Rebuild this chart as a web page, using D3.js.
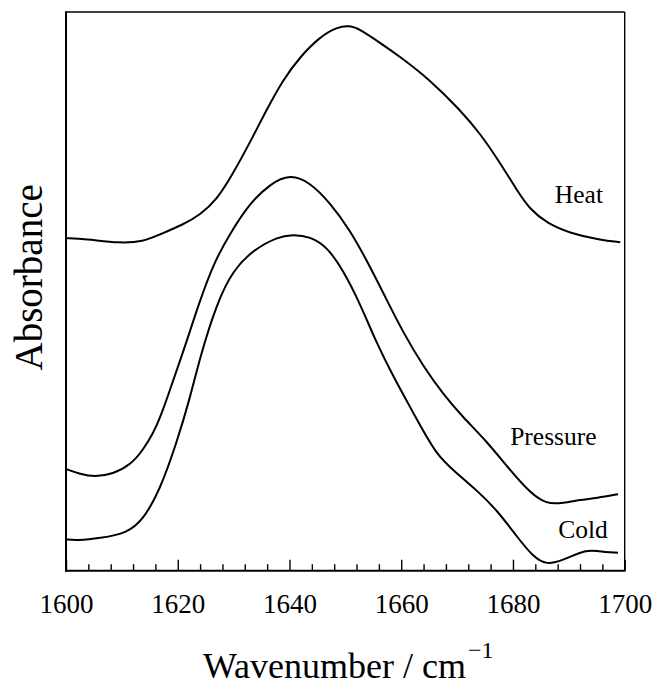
<!DOCTYPE html>
<html>
<head>
<meta charset="utf-8">
<script src="https://cdn.jsdelivr.net/npm/d3@7"></script>
<style>
  html, body { margin: 0; padding: 0; background: #fff; }
  svg { display: block; }
  text { font-family: "Liberation Serif", "Times New Roman", serif; fill: #000; }
</style>
</head>
<body>
<svg id="chart" width="657" height="686"></svg>
<script>
// Wavenumber (cm^-1) and absorbance (arbitrary units, offset traces)
const heatWn = [1600.0, 1603.4, 1609.7, 1613.8, 1616.8, 1620.9, 1624.0, 1627.0, 1629.9, 1632.9, 1635.9, 1638.8, 1641.9, 1645.5, 1648.5, 1650.8, 1652.6, 1656.2, 1659.8, 1665.2, 1670.5, 1674.1, 1677.7, 1680.7, 1683.1, 1686.1, 1690.2, 1695.6, 1699.2];
const heatAbs = [0.595, 0.594, 0.586, 0.589, 0.602, 0.619, 0.637, 0.664, 0.711, 0.766, 0.825, 0.878, 0.920, 0.956, 0.973, 0.976, 0.969, 0.945, 0.920, 0.878, 0.825, 0.783, 0.730, 0.681, 0.646, 0.622, 0.604, 0.592, 0.588];

const pressureWn = [1600.0, 1602.5, 1605.2, 1608.4, 1611.5, 1613.8, 1615.6, 1616.8, 1618.0, 1621.3, 1624.0, 1626.7, 1629.4, 1632.9, 1636.5, 1640.1, 1643.7, 1647.3, 1650.8, 1653.8, 1656.8, 1660.4, 1664.0, 1667.5, 1671.2, 1675.0, 1679.5, 1683.1, 1686.0, 1689.0, 1692.0, 1695.0, 1698.8];
const pressureAbs = [0.182, 0.173, 0.168, 0.173, 0.189, 0.216, 0.246, 0.273, 0.306, 0.401, 0.485, 0.556, 0.604, 0.658, 0.692, 0.710, 0.695, 0.658, 0.610, 0.556, 0.497, 0.425, 0.365, 0.316, 0.273, 0.235, 0.180, 0.139, 0.119, 0.121, 0.127, 0.130, 0.137];

const coldWn = [1600.0, 1601.9, 1606.1, 1610.9, 1613.8, 1616.8, 1619.8, 1622.2, 1624.0, 1627.0, 1629.9, 1633.5, 1637.7, 1640.6, 1643.7, 1646.7, 1649.6, 1652.6, 1655.6, 1658.6, 1662.2, 1666.3, 1669.9, 1673.5, 1677.1, 1680.7, 1683.6, 1686.0, 1689.0, 1693.2, 1695.0, 1698.8];
const coldAbs = [0.056, 0.054, 0.058, 0.067, 0.091, 0.144, 0.229, 0.309, 0.383, 0.479, 0.538, 0.574, 0.597, 0.602, 0.598, 0.580, 0.538, 0.479, 0.407, 0.347, 0.282, 0.206, 0.175, 0.144, 0.109, 0.061, 0.025, 0.010, 0.019, 0.038, 0.035, 0.032];

const seriesNames = ["Heat", "Pressure", "Cold"];
const xMajorTicks = [1600, 1620, 1640, 1660, 1680, 1700];
const xMinorTicks = [1604, 1608, 1612, 1616, 1624, 1628, 1632, 1636, 1644, 1648, 1652, 1656, 1664, 1668, 1672, 1676, 1684, 1688, 1692, 1696];
// label anchor points in data space (wavenumber, absorbance)
const labelWn = [1687.5, 1679.5, 1688.1];
const labelAbs = [0.659, 0.225, 0.058];

const svg = d3.select("#chart");
const L = 66, R = 624.7, T = 12, B = 570.7;

const x = d3.scaleLinear().domain([1600, 1700]).range([L, R]);
const y = d3.scaleLinear().domain([0, 1]).range([B, T]);

const series = [
  {name: seriesNames[0], wn: heatWn, ab: heatAbs},
  {name: seriesNames[1], wn: pressureWn, ab: pressureAbs},
  {name: seriesNames[2], wn: coldWn, ab: coldAbs}
];

const line = d3.line()
  .x(d => x(d[0]))
  .y(d => y(d[1]))
  .curve(d3.curveBasis);

series.forEach(s => {
  svg.append("path")
    .attr("d", line(s.wn.map((w, i) => [w, s.ab[i]])))
    .attr("fill", "none")
    .attr("stroke", "#000")
    .attr("stroke-width", 2);
});

// frame: top & right thin
svg.append("line").attr("x1", L).attr("x2", R).attr("y1", T).attr("y2", T)
  .attr("stroke", "#000").attr("stroke-width", 1.4);
svg.append("line").attr("x1", R).attr("x2", R).attr("y1", T).attr("y2", B)
  .attr("stroke", "#000").attr("stroke-width", 1.4);
// left axis line
svg.append("line").attr("x1", L).attr("x2", L).attr("y1", T - 0.7).attr("y2", B + 1)
  .attr("stroke", "#000").attr("stroke-width", 2);

// bottom axis: minor ticks
const minorAxis = d3.axisBottom(x).tickValues(xMinorTicks).tickSize(-6.5).tickFormat("");
const gMinor = svg.append("g").attr("transform", `translate(0,${B})`).call(minorAxis);
gMinor.select(".domain").remove();
gMinor.selectAll("line").attr("stroke", "#000").attr("stroke-width", 1.4);

// major ticks with labels
const majorAxis = d3.axisBottom(x).tickValues(xMajorTicks).tickSize(-11).tickPadding(23).tickFormat(d3.format("d"));
const gMajor = svg.append("g").attr("transform", `translate(0,${B})`).call(majorAxis);
gMajor.select(".domain").attr("stroke", "#000").attr("stroke-width", 2).attr("d", `M${L - 1},0H${R + 0.7}`);
gMajor.selectAll("line").attr("stroke", "#000").attr("stroke-width", 1.4);
gMajor.selectAll("text")
  .attr("font-family", '"Liberation Serif", "Times New Roman", serif')
  .attr("font-size", 27)
  .attr("fill", "#000");

// axis titles
const xt = svg.append("text")
  .attr("x", 203)
  .attr("y", 678)
  .attr("text-anchor", "start")
  .attr("font-size", 36);
xt.append("tspan").text("Wavenumber / cm");
xt.append("tspan").text("\u22121").attr("font-size", 24).attr("dy", -20).attr("dx", 2);

svg.append("text")
  .attr("transform", `translate(42,${(T + B) / 2 - 14}) rotate(-90)`)
  .attr("text-anchor", "middle")
  .attr("font-size", 39)
  .text("Absorbance");

// series labels
series.forEach((s, i) => {
  svg.append("text")
    .attr("x", x(labelWn[i]))
    .attr("y", y(labelAbs[i]))
    .attr("font-size", 25.5)
    .text(s.name);
});
</script>
</body>
</html>
